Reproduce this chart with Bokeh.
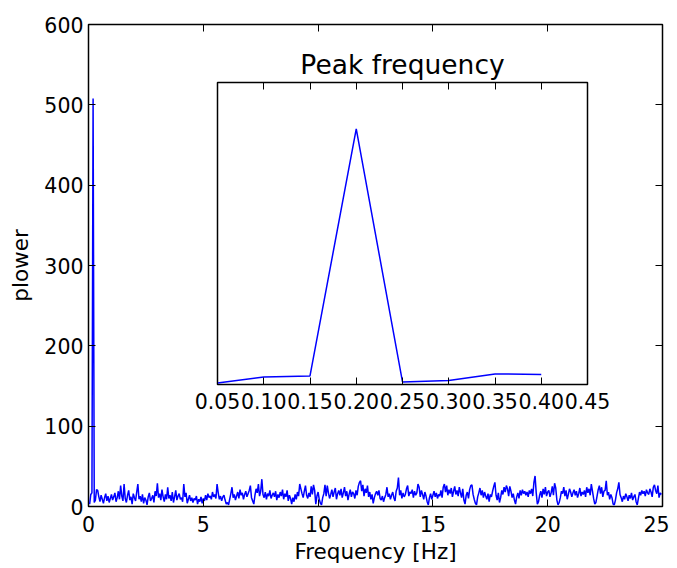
from bokeh.plotting import figure
from bokeh.models import Range1d, LinearAxis, FixedTicker, CustomJSTickFormatter
from bokeh.core.properties import value
from bokeh.embed import file_html
from bokeh.resources import INLINE

# ---------------- data ----------------
freq_step = 0.05  # Hz, spacing of the frequency samples
power = [
    3, 15, 17, 508, 5, 8, 21, 20,
    12, 6, 14, 9, 4, 11, 16, 7, 13, 5, 10, 15,
    8, 12, 17, 6, 11, 19, 9, 26, 13, 7,
    28, 10, 5, 14, 20, 8, 12, 3, 16, 11,
    7, 18, 28, 9, 13, 6, 15, 4, 11, 8,
    2, 12, 17, 7, 10, 14, 5, 19, 13, 29,
    11, 16, 8, 21, 12, 6, 15, 9, 24, 10,
    14, 7, 18, 5, 12, 20, 8, 13, 16, 9,
    11, 6, 28, 12, 17, 4, 9, 14, 7, 11,
    5, 10, 8, 13, 3, 9, 6, 12, 4, 10,
    7, 14, 8, 16, 11, 13, 9, 18, 12, 15,
    10, 28, 17, 9, 13, 7, 12, 14, 8, 3,
    5, 2, 9, 16, 24, 11, 15, 8,
    13, 18, 10, 21, 14, 17, 9, 15, 19, 12, 16, 20,
    26, 11, 7, 3, 14, 22, 17, 28, 13, 19,
    34, 15, 11, 18, 9, 16, 13, 20, 10, 14,
    17, 12, 19, 8, 15, 11, 18, 13, 21, 9,
    16, 12, 20, 7, 14, 10, 3, 11, 6, 15,
    9, 18, 13, 28, 22, 16, 11, 19, 26, 14,
    10, 17, 12, 25, 15, 27, 20, 3, 13, 18,
    9, 4, 2, 11, 16, 27, 13, 26, 17, 10,
    15, 21, 12, 18, 23, 9, 16, 20, 14, 22,
    11, 17, 24, 13, 19, 8, 15, 21, 12, 18,
    16, 10, 20, 14, 25, 30, 32, 19, 27, 13,
    22, 17, 26, 12, 18, 9, 15, 4, 11, 16,
    19, 14, 20, 10,
    8, 13, 6, 11, 15, 24,
    12, 16, 9, 14, 18, 11, 7, 19, 23, 36,
    14, 20, 10, 17, 12, 15, 22, 26, 13, 18,
    16, 21, 11, 19, 14, 17, 28, 24, 12, 20,
    15, 9, 18, 13, 6, 2, 11, 16, 9, 14,
    19, 12, 17, 10, 15, 13, 20, 11, 24, 28,
    18, 26, 14, 21, 16, 23, 12, 19, 25, 15,
    20, 13, 24, 17, 11, 22, 8, 3, 14, 18,
    10, 21, 26, 27, 15, 9, 4, 2, 12, 17,
    23, 14, 20, 11, 18, 13, 9, 16, 6, 15,
    12, 19, 25, 30, 14, 8, 17, 5, 11, 20,
    15, 24, 18, 26, 22, 13, 25, 19, 11, 16,
    8, 3, 12, 17, 10, 20, 14, 21, 16, 19,
    14, 18, 12, 20, 16, 22, 13, 30, 38, 17,
    3, 6, 14, 19, 11, 22, 15, 24, 13, 18,
    20, 12, 17, 25, 14, 29, 23, 8, 2, 5,
    11, 19, 16, 24, 13, 20, 9, 15, 22, 18,
    12, 17, 21, 14, 19, 11, 16, 23, 13, 18,
    15, 20, 12, 24, 17, 22, 14, 28, 19, 10,
    3, 5, 13, 21, 26, 16, 24, 12, 19, 20,
    32, 14, 18, 9, 15, 11, 3, 2, 8, 17,
    22, 30, 15, 11, 6, 13, 9, 16, 12, 7,
    14, 10, 17, 8, 12, 15, 6, 2, 10, 18,
    14, 20, 16, 19, 13, 21, 17, 15, 22, 18,
    12, 24, 27, 20, 16, 26, 11, 17, 15,
]
freqs = [round(freq_step * (i + 1), 2) for i in range(len(power))]

inset_n = 8
inset_freqs = freqs[:inset_n]
inset_power = power[:inset_n]

main_xticks = [0, 5, 10, 15, 20, 25]
main_yticks = [0, 100, 200, 300, 400, 500, 600]
inset_xticks = [0.05, 0.10, 0.15, 0.20, 0.25, 0.30, 0.35, 0.40, 0.45]

x_label = "Frequency [Hz]"
y_label = "plower"
inset_title = "Peak frequency"

# ---------------- layout ----------------
FONT = "DejaVu Sans"
TICK_FS = "20.5px"
LABEL_FS = "21.5px"
frame_w, frame_h = 574, 482
# inset frame position inside the main frame (pixels from frame left / top)
in_left, in_right, in_top, in_bottom = 129, 499, 58, 360
ix0, ix1 = 0.05, 0.45
iy0, iy1 = 0, 600

sx = (ix1 - ix0) / (in_right - in_left)
sy = (iy1 - iy0) / (in_bottom - in_top)
inset_x_range = Range1d(ix0 - in_left * sx, ix1 + (frame_w - in_right) * sx)
inset_y_range = Range1d(iy0 - (frame_h - in_bottom) * sy, iy1 + in_top * sy)

p = figure(
    frame_width=frame_w, frame_height=frame_h,
    x_range=Range1d(0, 25), y_range=Range1d(0, 600),
    output_backend="svg", toolbar_location=None,
    min_border_left=88, min_border_right=7, min_border_top=24, min_border_bottom=10,
    x_axis_type=None, y_axis_type=None,
)
p.extra_x_ranges = {"ix": inset_x_range}
p.extra_y_ranges = {"iy": inset_y_range}
p.xgrid.visible = False
p.ygrid.visible = False
p.outline_line_color = "black"
p.outline_line_width = 1.5
p.background_fill_color = "white"
p.border_fill_color = "white"

empty_fmt = CustomJSTickFormatter(code="return ''")


def style_axis(ax, labels=True):
    ax.axis_line_color = None
    ax.major_tick_in = 7
    ax.major_tick_out = 0
    ax.minor_tick_in = 0
    ax.minor_tick_out = 0
    ax.major_tick_line_color = "black"
    ax.major_tick_line_width = 1
    ax.major_label_text_font = FONT
    ax.major_label_text_font_size = TICK_FS
    ax.major_label_text_color = "black"
    ax.axis_label_text_font = FONT
    ax.axis_label_text_font_size = LABEL_FS
    ax.axis_label_text_font_style = "normal"
    ax.axis_label_text_color = "black"
    if not labels:
        ax.formatter = empty_fmt
        ax.major_label_standoff = 0


bottom = LinearAxis(ticker=FixedTicker(ticks=main_xticks), axis_label=x_label)
style_axis(bottom)
bottom.major_label_standoff = 9
bottom.axis_label_standoff = 4
p.add_layout(bottom, "below")

left = LinearAxis(ticker=FixedTicker(ticks=main_yticks), axis_label=y_label)
style_axis(left)
left.major_label_standoff = 5
left.axis_label_standoff = 8
p.add_layout(left, "left")

top = LinearAxis(ticker=FixedTicker(ticks=main_xticks))
style_axis(top, labels=False)
p.add_layout(top, "above")

right = LinearAxis(ticker=FixedTicker(ticks=main_yticks))
style_axis(right, labels=False)
p.add_layout(right, "right")

# main spectrum
p.line(freqs, power, line_color="#0000ff", line_width=1.5)

# inset box
p.quad(left=[ix0], right=[ix1], bottom=[iy0], top=[iy1],
       x_range_name="ix", y_range_name="iy",
       fill_color="white", line_color="black", line_width=1.5)
p.line(inset_freqs, inset_power, x_range_name="ix", y_range_name="iy",
       line_color="#0000ff", line_width=1.5)

ib = LinearAxis(x_range_name="ix", y_range_name="iy", fixed_location=iy0,
                ticker=FixedTicker(ticks=inset_xticks),
                formatter=CustomJSTickFormatter(code="return tick.toFixed(2)"))
style_axis(ib)
ib.major_label_standoff = 8
p.add_layout(ib, "below")

it = LinearAxis(x_range_name="ix", y_range_name="iy", fixed_location=iy1,
                ticker=FixedTicker(ticks=inset_xticks))
style_axis(it, labels=False)
p.add_layout(it, "above")

p.text(x=[(ix0 + ix1) / 2], y=[iy1], text=[inset_title],
       x_range_name="ix", y_range_name="iy",
       text_align="center", text_baseline="bottom", y_offset=-3,
       text_font=value(FONT), text_font_size=value("26.5px"), text_color="black")

open("out.html", "w").write(file_html(p, INLINE))
